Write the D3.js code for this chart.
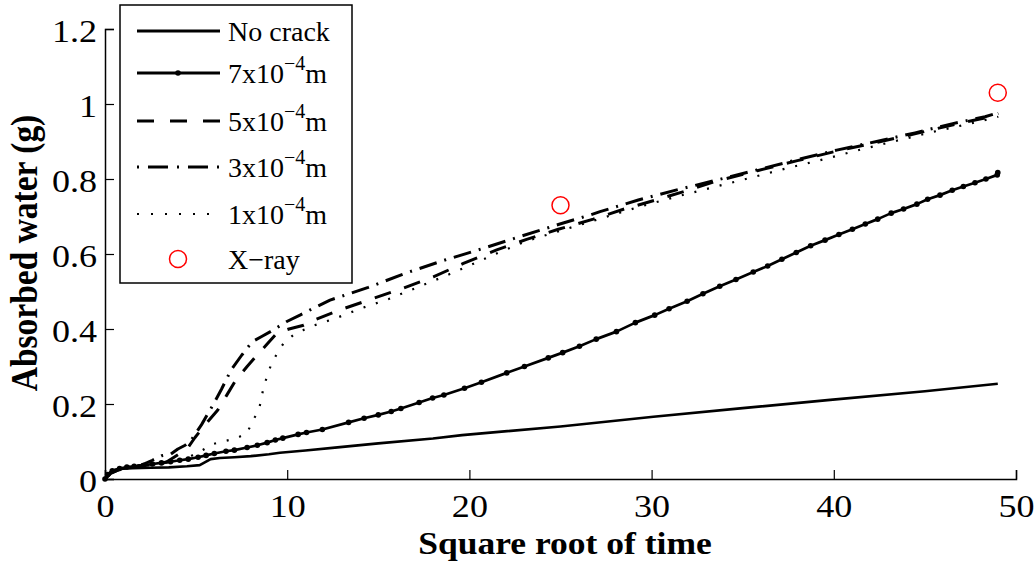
<!DOCTYPE html>
<html><head><meta charset="utf-8">
<script src="https://cdn.jsdelivr.net/npm/d3@7/dist/d3.min.js"></script>
<style>body{margin:0;background:#fff}svg{display:block}text{font-family:"Liberation Serif","Times New Roman",serif}</style>
</head><body><svg id="c" width="1036" height="562"></svg>
<script>
const xTicks = [0,10,20,30,40,50];
const yTicks = [0,0.2,0.4,0.6,0.8,1,1.2];
const yTickLabels = ["0","0.2","0.4","0.6","0.8","1","1.2"];
const seriesNames = ["No crack","7x10","5x10","3x10","1x10","X\u2212ray"];

const noCrack = [[0,0],[0.15,0.012],[0.4,0.022],[0.8,0.027],[1.5,0.029],[2.5,0.03],[3.5,0.031],[4.5,0.034],[5.2,0.037],[5.5,0.045],[5.8,0.053],[6.3,0.056],[7.1,0.058],[8.0,0.061],[9.0,0.066],[9.6,0.070],[11,0.076],[12.76,0.0845],[15,0.095],[18,0.108],[19.6,0.117],[25,0.14],[30.1,0.166],[35,0.189],[39.8,0.211],[45,0.234],[49,0.254]];

const crack7 = [[0,0],[0.15,0.012],[0.4,0.022],[0.8,0.028],[1.2,0.032],[1.6,0.034],[2.1,0.036],[2.6,0.04],[3.1,0.043],[3.6,0.046],[4.1,0.05],[4.57,0.053],[5.11,0.058],[5.55,0.063],[6.0,0.068],[6.64,0.074],[7.1,0.077],[7.8,0.084],[8.36,0.09],[8.9,0.097],[9.35,0.104],[9.76,0.109],[10.6,0.119],[11.06,0.124],[11.93,0.132],[13.37,0.151],[14.22,0.162],[15.0,0.171],[15.71,0.180],[16.24,0.188],[17.24,0.204],[17.98,0.216],[18.6,0.224],[19.73,0.242],[20.66,0.258],[22.05,0.283],[23.02,0.300],[24.33,0.323],[25.12,0.337],[26.04,0.354],[26.96,0.373],[28.07,0.393],[29.11,0.417],[30.17,0.437],[30.96,0.454],[31.95,0.474],[32.82,0.494],[33.74,0.514],[34.63,0.532],[35.58,0.552],[36.37,0.568],[37.15,0.586],[37.94,0.604],[38.73,0.622],[39.52,0.637],[40.28,0.652],[41.02,0.666],[41.73,0.680],[42.41,0.693],[43.15,0.709],[43.83,0.720],[44.56,0.733],[45.15,0.746],[45.83,0.757],[46.5,0.770],[47.11,0.780],[47.75,0.790],[48.35,0.800],[48.97,0.811],[49.0,0.817]];

const crack5 = [[0,0],[0.3,0.015],[1,0.03],[2,0.035],[3,0.04],[3.4,0.046],[4.12,0.068],[4.5,0.08],[4.93,0.11],[5.5,0.145],[6.19,0.184],[6.7,0.225],[7.18,0.264],[7.8,0.3],[8.36,0.331],[8.9,0.36],[9.44,0.389],[10.1,0.4],[10.9,0.41],[11.5,0.424],[12.9,0.451],[14.64,0.48],[16.37,0.509],[18.02,0.539],[19.67,0.575],[21.5,0.611],[23.14,0.639],[24.88,0.666],[26.8,0.693],[28.5,0.72],[30.3,0.745],[31.8,0.767],[33.6,0.795],[35.8,0.822],[38,0.849],[40.2,0.875],[42.4,0.898],[44.5,0.921],[46.5,0.944],[48.3,0.963],[49.03,0.975]];

const crack3 = [[0,0],[0.3,0.015],[1,0.03],[2,0.037],[2.6,0.05],[3.1,0.062],[3.6,0.066],[4.0,0.08],[4.4,0.09],[4.75,0.105],[5.3,0.145],[5.92,0.197],[6.4,0.24],[6.91,0.29],[7.5,0.33],[8.08,0.366],[8.6,0.38],[9.08,0.393],[9.98,0.42],[10.7,0.437],[11.42,0.455],[12.35,0.477],[14.45,0.511],[16.56,0.55],[18.66,0.584],[20.76,0.615],[22.87,0.648],[24.97,0.68],[26.62,0.704],[27.17,0.713],[29.27,0.744],[31.38,0.771],[33.57,0.797],[35.77,0.824],[37.96,0.851],[40.16,0.877],[42.35,0.9],[44.46,0.923],[46.47,0.947],[48.3,0.966],[49.03,0.977]];

const crack1 = [[0,0],[0.3,0.015],[1,0.03],[2,0.035],[3,0.04],[4,0.05],[4.66,0.06],[5.29,0.075],[5.92,0.093],[6.55,0.101],[7.18,0.108],[7.8,0.122],[8.08,0.153],[8.45,0.184],[8.72,0.248],[9.08,0.3],[9.44,0.335],[9.8,0.362],[10.34,0.384],[10.88,0.397],[11.5,0.41],[12.63,0.428],[14.05,0.455],[15.57,0.48],[17.09,0.51],[18.61,0.54],[20.13,0.572],[21.65,0.605],[23.17,0.635],[25.2,0.665],[27.23,0.695],[29.26,0.725],[31.29,0.752],[33.31,0.777],[35.34,0.802],[37.37,0.828],[39.4,0.852],[41.43,0.878],[43.45,0.902],[45.48,0.926],[47.51,0.948],[49.03,0.966]];

const xray = [[25,0.73],[49,1.03]];

const SX = 1.11; // horizontal glyph stretch seen in the reference
const svg = d3.select("#c");
const x = d3.scaleLinear().domain([0,50]).range([105,1016]);
const y = d3.scaleLinear().domain([0,1.2]).range([479,29]);

// axes
const xAxis = d3.axisBottom(x).tickValues(xTicks).tickSize(-9).tickPadding(15).tickFormat(d3.format("d"));
const gx = svg.append("g").attr("transform","translate(0,479)").call(xAxis);
const yAxis = d3.axisLeft(y).tickValues(yTicks).tickSize(-9).tickPadding(7.2).tickFormat((d,i)=>yTickLabels[i]);
const gy = svg.append("g").attr("transform","translate(105,0)").call(yAxis);
[gx,gy].forEach(g=>{
  g.select(".domain").attr("stroke","#000").attr("stroke-width",1.5);
  g.selectAll(".tick line").attr("stroke","#000").attr("stroke-width",1.2);
  g.selectAll(".tick text").attr("font-family","Liberation Serif").attr("font-size",32.5).attr("fill","#000")
    .attr("transform",`scale(${SX},1)`);
});
gx.selectAll(".tick text").attr("dy","0.71em");
gy.selectAll(".tick text").attr("dy","0.37em");

const line = d3.line().x(d=>x(d[0])).y(d=>y(d[1]));
const styles = [
  {data:noCrack, dash:null, w:2.7},
  {data:crack7, dash:null, w:2.7},
  {data:crack5, dash:"17,14", w:3},
  {data:crack3, dash:"18,8,2,8", w:3},
  {data:crack1, dash:"2,11", w:2.2}
];
styles.forEach(s=>{
  svg.append("path").attr("d",line(s.data)).attr("fill","none").attr("stroke","#000")
    .attr("stroke-width",s.w).attr("stroke-dasharray",s.dash).attr("stroke-linejoin","round");
});
svg.append("g").selectAll("circle").data(crack7).join("circle")
  .attr("cx",d=>x(d[0])).attr("cy",d=>y(d[1])).attr("r",2.8).attr("fill","#000");
svg.append("g").selectAll("circle").data(xray).join("circle")
  .attr("cx",d=>x(d[0])).attr("cy",d=>y(d[1])).attr("r",8.5).attr("fill","none").attr("stroke","#f00").attr("stroke-width",1.5);

// axis titles
svg.append("text").attr("transform",`translate(565,554) scale(${SX},1)`).attr("text-anchor","middle")
  .attr("font-size",32).attr("font-weight","bold").text("Square root of time");
svg.append("text").attr("transform",`translate(37,253) scale(${SX},1) rotate(-90)`).attr("text-anchor","middle")
  .attr("font-size",33.5).attr("font-weight","bold").text("Absorbed water (g)");

// legend
const lg = svg.append("g");
lg.append("rect").attr("x",120).attr("y",5).attr("width",232).attr("height",278)
  .attr("fill","#fff").attr("stroke","#000").attr("stroke-width",1.5);
const rowY = [31,73,121,167,214,259];
const legendDash = [null,null,"17,16","2,9,20,9","2,12",null];
rowY.forEach((ry,i)=>{
  if(i<5){
    lg.append("line").attr("x1",137).attr("x2",220).attr("y1",ry).attr("y2",ry)
      .attr("stroke","#000").attr("stroke-width",i===4?2.2:3).attr("stroke-dasharray",legendDash[i]);
  }
  if(i===1) lg.append("circle").attr("cx",178).attr("cy",ry).attr("r",2.8).attr("fill","#000");
  if(i===5) lg.append("circle").attr("cx",178).attr("cy",ry).attr("r",8.5).attr("fill","none").attr("stroke","#f00").attr("stroke-width",1.5);
  const t = lg.append("text").attr("x",228).attr("y",ry+10).attr("font-size",28);
  if(i===0||i===5){ t.text(seriesNames[i]); }
  else {
    t.append("tspan").text(seriesNames[i]);
    t.append("tspan").attr("dy",-13).attr("font-size",20).text("\u22124");
    t.append("tspan").attr("dy",13).text("m");
  }
});
</script></body></html>
